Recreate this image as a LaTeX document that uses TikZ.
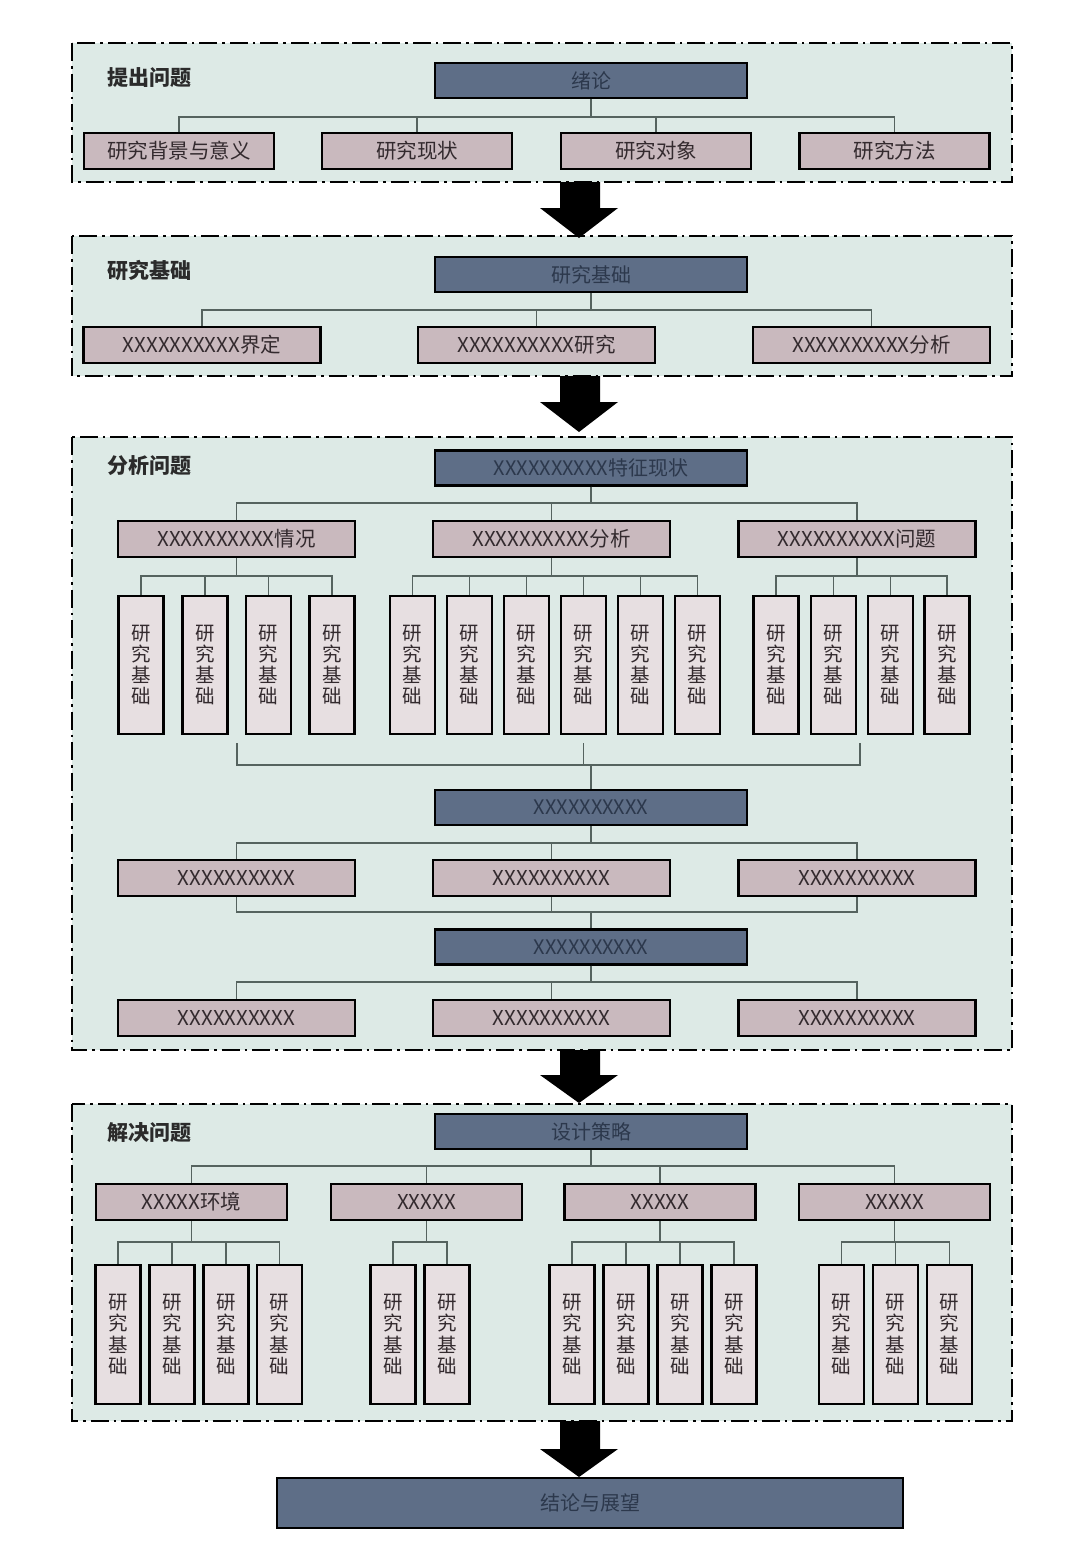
\documentclass[tikz,border=0pt]{standalone}
\usepackage{fontspec}
\setmainfont{Noto Sans CJK SC}
\definecolor{framefill}{HTML}{DDEAE6}
\definecolor{darkfill}{HTML}{5E6E87}
\definecolor{darktext}{HTML}{2C384C}
\definecolor{pinkfill}{HTML}{C9B9BE}
\definecolor{pinktext}{HTML}{332A2E}
\definecolor{vfill}{HTML}{E7DFE1}
\definecolor{lineclr}{HTML}{55635F}
\definecolor{titleclr}{HTML}{2B2B2B}
\tikzset{
  frame/.style={draw=black, line width=2pt, dash pattern=on 18pt off 5pt on 2.5pt off 5pt, fill=framefill},
  darkbox/.style={draw=black, line width=2.2pt, fill=darkfill, text=darktext, minimum width=312pt, minimum height=35pt, inner sep=0pt, font=\fontsize{20}{23}\selectfont},
  pinkbox/.style={draw=black, line width=2.2pt, fill=pinkfill, text=pinktext, minimum height=36pt, inner sep=0pt, font=\fontsize{20.5}{23}\selectfont},
  vbox/.style={draw=black, line width=2.2pt, fill=vfill, text=pinktext, minimum width=45pt, minimum height=138pt, inner sep=0pt, align=center, font=\fontsize{19.5}{21.3}\selectfont},
  title/.style={text=titleclr, font=\fontsize{21}{24}\selectfont\bfseries, inner sep=0pt},
  conn/.style={draw=lineclr, line width=1.4pt},
  bigarrow/.style={fill=black}
}
\begin{document}
\begin{tikzpicture}[x=1pt,y=-1pt]
\useasboundingbox (0,0) rectangle (1080,1559);
\fill[white] (0,0) rectangle (1080,1559);

% frames
\draw[frame] (72,43) rectangle (1012,182);
\draw[frame] (72,236) rectangle (1012,376);
\draw[frame] (72,437) rectangle (1012,1050);
\draw[frame] (72,1104) rectangle (1012,1421);

% titles
\node[title, anchor=west] (ti1) at (107,78) {提出问题};
\node[title, anchor=west] (ti2) at (107,270) {研究基础};
\node[title, anchor=west] (ti3) at (107,466) {分析问题};
\node[title, anchor=west] (ti4) at (107,1133) {解决问题};

% ---------- section 1
\node[darkbox] (t1) at (591,80.5) {绪论};
\node[pinkbox, minimum width=190pt] (s1a) at (179,151) {研究背景与意义};
\node[pinkbox, minimum width=190pt] (s1b) at (417,151) {研究现状};
\node[pinkbox, minimum width=190pt] (s1c) at (656,151) {研究对象};
\node[pinkbox, minimum width=190pt] (s1d) at (894.5,151) {研究方法};
\coordinate (bus1) at (0,117);
\foreach \c in {s1a,s1b,s1c,s1d}
  \draw[conn] (t1.south) -- (t1.south |- bus1) -| (\c.north);

% ---------- section 2
\node[darkbox] (t2) at (591,274.5) {研究基础};
\node[pinkbox, minimum width=237pt] (s2a) at (202,345) {XXXXXXXXXX界定};
\node[pinkbox, minimum width=237pt] (s2b) at (536.5,345) {XXXXXXXXXX研究};
\node[pinkbox, minimum width=237pt] (s2c) at (871.5,345) {XXXXXXXXXX分析};
\coordinate (bus2) at (0,310);
\foreach \c in {s2a,s2b,s2c}
  \draw[conn] (t2.south) -- (t2.south |- bus2) -| (\c.north);

% ---------- section 3
\node[darkbox] (t3) at (591,468) {XXXXXXXXXX特征现状};
\node[pinkbox, minimum width=237pt] (p3a) at (236.5,539) {XXXXXXXXXX情况};
\node[pinkbox, minimum width=237pt] (p3b) at (551.5,539) {XXXXXXXXXX分析};
\node[pinkbox, minimum width=237pt] (p3c) at (857,539) {XXXXXXXXXX问题};
\coordinate (bus3) at (0,503);
\foreach \c in {p3a,p3b,p3c}
  \draw[conn] (t3.south) -- (t3.south |- bus3) -| (\c.north);

\coordinate (bus3v) at (0,576);
\foreach \x [count=\i] in {141,205,268.5,332} {
  \node[vbox] (va\i) at (\x,665) {研\\究\\基\\础};
  \draw[conn] (p3a.south) -- (p3a.south |- bus3v) -| (va\i.north);
}
\foreach \x [count=\i] in {412.5,469.5,526.5,583.5,640.5,697.5} {
  \node[vbox] (vb\i) at (\x,665) {研\\究\\基\\础};
  \draw[conn] (p3b.south) -- (p3b.south |- bus3v) -| (vb\i.north);
}
\foreach \x [count=\i] in {776,833.5,890.5,947} {
  \node[vbox] (vc\i) at (\x,665) {研\\究\\基\\础};
  \draw[conn] (p3c.south) -- (p3c.south |- bus3v) -| (vc\i.north);
}

\node[darkbox] (d2) at (591,807.5) {XXXXXXXXXX};
\coordinate (g1) at (237,743);
\coordinate (g2) at (583.5,743);
\coordinate (g3) at (860,743);
\coordinate (busg) at (0,765);
\foreach \g in {g1,g2,g3}
  \draw[conn] (\g) -- (\g |- busg) -| (d2.north);

\node[pinkbox, minimum width=237pt] (q1) at (236.5,878) {XXXXXXXXXX};
\node[pinkbox, minimum width=237pt] (q2) at (551.5,878) {XXXXXXXXXX};
\node[pinkbox, minimum width=237pt] (q3) at (857,878) {XXXXXXXXXX};
\coordinate (busq) at (0,843);
\foreach \c in {q1,q2,q3}
  \draw[conn] (d2.south) -- (d2.south |- busq) -| (\c.north);

\node[darkbox] (d3) at (591,947) {XXXXXXXXXX};
\coordinate (busq2) at (0,912);
\foreach \c in {q1,q2,q3}
  \draw[conn] (\c.south) -- (\c.south |- busq2) -| (d3.north);

\node[pinkbox, minimum width=237pt] (r1) at (236.5,1018) {XXXXXXXXXX};
\node[pinkbox, minimum width=237pt] (r2) at (551.5,1018) {XXXXXXXXXX};
\node[pinkbox, minimum width=237pt] (r3) at (857,1018) {XXXXXXXXXX};
\coordinate (busr) at (0,982);
\foreach \c in {r1,r2,r3}
  \draw[conn] (d3.south) -- (d3.south |- busr) -| (\c.north);

% ---------- section 4
\node[darkbox] (t4) at (591,1131.5) {设计策略};
\node[pinkbox, minimum width=191pt] (u1) at (191.5,1202) {XXXXX环境};
\node[pinkbox, minimum width=191pt] (u2) at (426.5,1202) {XXXXX};
\node[pinkbox, minimum width=191pt] (u3) at (660,1202) {XXXXX};
\node[pinkbox, minimum width=191pt] (u4) at (894.5,1202) {XXXXX};
\coordinate (bus4) at (0,1166);
\foreach \c in {u1,u2,u3,u4}
  \draw[conn] (t4.south) -- (t4.south |- bus4) -| (\c.north);

\coordinate (bus4v) at (0,1242);
\foreach \x [count=\i] in {118,172,226,279.5} {
  \node[vbox, minimum height=139pt] (wa\i) at (\x,1334.5) {研\\究\\基\\础};
  \draw[conn] (u1.south) -- (u1.south |- bus4v) -| (wa\i.north);
}
\foreach \x [count=\i] in {393,447} {
  \node[vbox, minimum height=139pt] (wb\i) at (\x,1334.5) {研\\究\\基\\础};
  \draw[conn] (u2.south) -- (u2.south |- bus4v) -| (wb\i.north);
}
\foreach \x [count=\i] in {572,626,680,734} {
  \node[vbox, minimum height=139pt] (wc\i) at (\x,1334.5) {研\\究\\基\\础};
  \draw[conn] (u3.south) -- (u3.south |- bus4v) -| (wc\i.north);
}
\foreach \x [count=\i] in {841.5,895.5,949.5} {
  \node[vbox, minimum height=139pt] (wd\i) at (\x,1334.5) {研\\究\\基\\础};
  \draw[conn] (u4.south) -- (u4.south |- bus4v) -| (wd\i.north);
}

% ---------- final
\node[darkbox, minimum width=626pt, minimum height=50pt] (fin) at (590,1503) {结论与展望};

% ---------- block arrows
\fill[bigarrow] (560,182) -- (600,182) -- (600,208) -- (618,208) -- (579,238) -- (540,208) -- (560,208) -- cycle;
\fill[bigarrow] (560,376) -- (600,376) -- (600,402) -- (618,402) -- (579,432) -- (540,402) -- (560,402) -- cycle;
\fill[bigarrow] (560,1050) -- (600,1050) -- (600,1075) -- (618,1075) -- (579,1103) -- (540,1075) -- (560,1075) -- cycle;
\fill[bigarrow] (560,1421) -- (600,1421) -- (600,1449) -- (618,1449) -- (579,1477) -- (540,1449) -- (560,1449) -- cycle;
\end{tikzpicture}
\end{document}
